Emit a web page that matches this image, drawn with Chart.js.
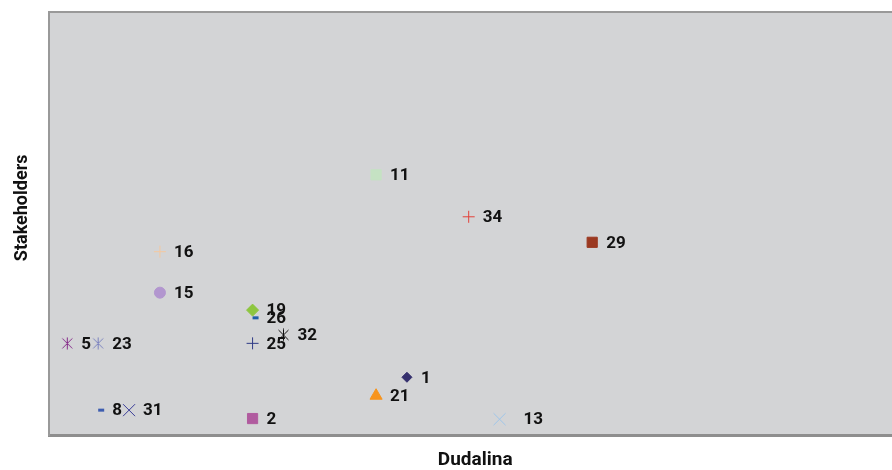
<!DOCTYPE html>
<html>
<head>
<meta charset="utf-8">
<script src="https://cdn.jsdelivr.net/npm/chart.js@4.4.1/dist/chart.umd.min.js"></script>
<style>
  body { margin: 0; background: #fff; }
</style>
</head>
<body>
<canvas id="myChart" width="892" height="470"></canvas>
<script>
// stakeholder ids and their positions
const ids = ['1', '2', '5', '8', '11', '13', '15', '16', '19', '21', '23', '25', '26', '29', '31', '32', '34'];
const xVals = [12, 7, 1, 2, 11, 15, 4, 4, 7, 11, 2, 7, 7, 18, 3, 8, 14];
const yVals = [1.72, 0.49, 2.73, 0.74, 7.75, 0.47, 4.24, 5.46, 3.72, 1.17, 2.73, 2.73, 3.49, 5.74, 0.74, 2.98, 6.50];

// six-armed asterisk like the original marker
function asterisk(color) {
    const c = document.createElement('canvas');
    c.width = 13;
    c.height = 13;
    const g = c.getContext('2d');
    g.strokeStyle = color;
    g.lineWidth = 1;
    g.beginPath();
    g.moveTo(6.5, 0.5); g.lineTo(6.5, 12.5);
    g.moveTo(1.5, 1.5); g.lineTo(11.5, 11.5);
    g.moveTo(11.5, 1.5); g.lineTo(1.5, 11.5);
    g.stroke();
    return c;
}

// marker look per id
const markers = {
    '1':  { style: 'rectRot',  color: '#35306e', r: 5 },
    '2':  { style: 'rect',     color: '#b05b9f', r: 7.2 },
    '5':  { style: 'star',     color: '#862b8a', r: 6 },
    '8':  { style: 'dash',     color: '#3d5db0', r: 6, bw: 3 },
    '11': { style: 'rect',     color: '#c5e2c3', r: 7.2 },
    '13': { style: 'crossRot', color: '#9fc6ea', r: 8.5, dx: 24 },
    '15': { style: 'circle',   color: '#b296cf', r: 5.5 },
    '16': { style: 'cross',    color: '#f4c8a0', r: 6 },
    '19': { style: 'rectRot',  color: '#8dc63f', r: 6 },
    '21': { style: 'triangle', color: '#f7941d', r: 7 },
    '23': { style: 'star',     color: '#7b82bf', r: 6 },
    '25': { style: 'cross',    color: '#2f3a86', r: 6 },
    '26': { style: 'dash',     color: '#1f5ea8', r: 6, bw: 3 },
    '29': { style: 'rect',     color: '#9b3921', r: 7.2 },
    '31': { style: 'crossRot', color: '#3a3d99', r: 8.5 },
    '32': { style: 'star',     color: '#111111', r: 6 },
    '34': { style: 'cross',    color: '#e2423a', r: 6 }
};

const datasets = ids.map((id, i) => {
    const m = markers[id];
    return {
        label: id,
        data: [{ x: xVals[i], y: yVals[i] }],
        pointStyle: m.style === 'star' ? asterisk(m.color) : m.style,
        pointRadius: m.r,
        pointBackgroundColor: m.color,
        pointBorderColor: m.color,
        pointBorderWidth: m.bw || 1
    };
});

// grey plot background + top border line
const plotBg = {
    id: 'plotBg',
    beforeDraw(chart) {
        const { ctx, chartArea: a } = chart;
        ctx.save();
        ctx.fillStyle = '#d3d4d6';
        ctx.fillRect(a.left, a.top, a.right - a.left, a.bottom - a.top);
        ctx.strokeStyle = '#999999';
        ctx.lineWidth = 2;
        ctx.beginPath();
        ctx.moveTo(a.left - 1, a.top);
        ctx.lineTo(a.right, a.top);
        ctx.stroke();
        ctx.restore();
    }
};

// id labels right of every marker
const pointLabels = {
    id: 'pointLabels',
    afterDatasetsDraw(chart) {
        const ctx = chart.ctx;
        ctx.save();
        ctx.font = 'bold 17px Roboto';
        ctx.fillStyle = '#111111';
        ctx.textBaseline = 'middle';
        ctx.textAlign = 'left';
        chart.data.datasets.forEach((ds, i) => {
            const pt = chart.getDatasetMeta(i).data[0];
            const dx = markers[ds.label].dx || 14;
            ctx.fillText(ds.label, pt.x + dx, pt.y + 1);
        });
        ctx.restore();
    }
};

const ctx = document.getElementById('myChart').getContext('2d');

const myChart = new Chart(ctx, {
    type: 'scatter',
    data: { datasets: datasets },
    plugins: [plotBg, pointLabels],
    options: {
        responsive: false,
        animation: false,
        devicePixelRatio: 1,
        layout: { autoPadding: false, padding: { top: 12, left: 0, right: 0, bottom: 0 } },
        plugins: {
            legend: { display: false },
            tooltip: { enabled: false }
        },
        scales: {
            x: {
                type: 'linear',
                min: 0.407,
                max: 27.71,
                grid: { display: false, drawTicks: false, tickLength: 0 },
                ticks: { display: false },
                border: { display: true, color: '#8e8e8e', width: 3 },
                title: {
                    display: true,
                    text: '  Dudalina',
                    color: '#111111',
                    font: { family: 'Roboto', size: 19, weight: 'bold', lineHeight: 1 },
                    padding: { top: 16, bottom: 0 }
                }
            },
            y: {
                type: 'linear',
                min: 0,
                max: 12.6,
                grid: { display: false, drawTicks: false, tickLength: 0 },
                ticks: { display: false },
                border: { display: true, color: '#999999', width: 2 },
                title: {
                    display: true,
                    text: '       Stakeholders',
                    color: '#111111',
                    font: { family: 'Roboto', size: 18, weight: 'bold', lineHeight: 1 },
                    padding: { top: 13, bottom: 18 }
                }
            }
        }
    }
});
</script>
</body>
</html>
